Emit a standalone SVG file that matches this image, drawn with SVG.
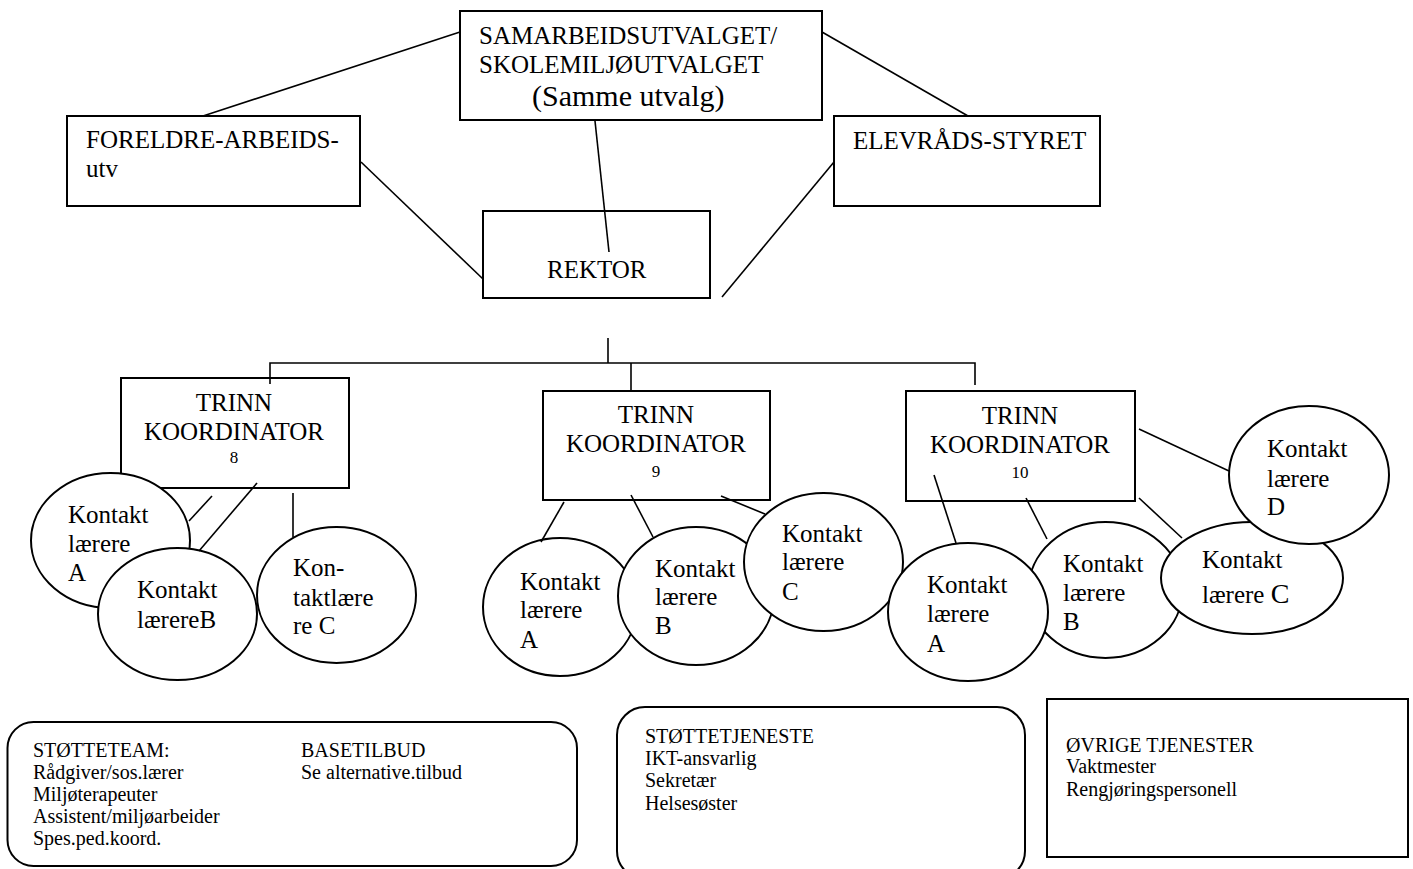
<svg xmlns="http://www.w3.org/2000/svg" width="1413" height="869" viewBox="0 0 1413 869">
<style>
text{font-family:"Liberation Serif","Times New Roman",serif;fill:#000;font-size:25px}
.box{fill:#fff;stroke:#000;stroke-width:2}
.ell{fill:#fff;stroke:#000;stroke-width:2}
.num{font-size:17px}
.sm{font-size:20px}
.mid{text-anchor:middle}
#connectors line,#connectors polyline{stroke:#000;stroke-width:1.6;fill:none}
</style>
<rect width="1413" height="869" fill="#fff"/>
<g id="samarbeidsutvalget">
<rect class="box" x="460" y="11" width="362" height="109"/>
<text x="479" y="44">SAMARBEIDSUTVALGET/</text>
<text x="479" y="73">SKOLEMILJØUTVALGET</text>
<text x="532" y="106" style="font-size:30px">(Samme utvalg)</text>
</g>
<g id="foreldre">
<rect class="box" x="67" y="116" width="293" height="90"/>
<text x="86" y="148">FORELDRE-ARBEIDS-</text>
<text x="86" y="177">utv</text>
</g>
<g id="elevrad">
<rect class="box" x="834" y="116" width="266" height="90"/>
<text x="853" y="149">ELEVRÅDS-STYRET</text>
</g>
<g id="rektor">
<rect class="box" x="483" y="211" width="227" height="87"/>
<text x="547" y="278">REKTOR</text>
</g>
<g id="trinn8">
<rect class="box" x="121" y="378" width="228" height="110"/>
<text class="mid" x="234" y="411">TRINN</text>
<text class="mid" x="234" y="440">KOORDINATOR</text>
<text class="mid num" x="234" y="463">8</text>
</g>
<g id="trinn9">
<rect class="box" x="543" y="391" width="227" height="109"/>
<text class="mid" x="656" y="423">TRINN</text>
<text class="mid" x="656" y="452">KOORDINATOR</text>
<text class="mid num" x="656" y="477">9</text>
</g>
<g id="trinn10">
<rect class="box" x="906" y="391" width="229" height="110"/>
<text class="mid" x="1020" y="424">TRINN</text>
<text class="mid" x="1020" y="453">KOORDINATOR</text>
<text class="mid num" x="1020" y="478">10</text>
</g>
<g id="k8a">
<ellipse class="ell" cx="110.5" cy="540.5" rx="79.5" ry="67.5"/>
<text x="68" y="523">Kontakt</text>
<text x="68" y="552">lærere</text>
<text x="68" y="581">A</text>
</g>
<g id="k8b">
<ellipse class="ell" cx="177.5" cy="614" rx="79.5" ry="66"/>
<text x="137" y="598">Kontakt</text>
<text x="137" y="628">lærereB</text>
</g>
<g id="k8c">
<ellipse class="ell" cx="336.5" cy="595" rx="79.5" ry="68"/>
<text x="293" y="576">Kon-</text>
<text x="293" y="606">taktlære</text>
<text x="293" y="634">re C</text>
</g>
<g id="k9a">
<ellipse class="ell" cx="560" cy="607" rx="77" ry="69"/>
<text x="520" y="590">Kontakt</text>
<text x="520" y="618">lærere</text>
<text x="520" y="648">A</text>
</g>
<g id="k9b">
<ellipse class="ell" cx="696" cy="596" rx="78" ry="69"/>
<text x="655" y="577">Kontakt</text>
<text x="655" y="605">lærere</text>
<text x="655" y="634">B</text>
</g>
<g id="k9c">
<ellipse class="ell" cx="823.5" cy="562" rx="79.5" ry="69"/>
<text x="782" y="542">Kontakt</text>
<text x="782" y="570">lærere</text>
<text x="782" y="600">C</text>
</g>
<g id="k10b">
<ellipse class="ell" cx="1105.5" cy="590" rx="77" ry="68"/>
<text x="1063" y="572">Kontakt</text>
<text x="1063" y="601">lærere</text>
<text x="1063" y="630">B</text>
</g>
<g id="k10a">
<ellipse class="ell" cx="968" cy="612" rx="80" ry="69"/>
<text x="927" y="593">Kontakt</text>
<text x="927" y="622">lærere</text>
<text x="927" y="652">A</text>
</g>
<g id="k10c">
<ellipse class="ell" cx="1252" cy="578" rx="91" ry="56"/>
<text x="1202" y="568">Kontakt</text>
<text x="1202" y="603">lærere <tspan style="font-size:28px">C</tspan></text>
</g>
<g id="k10d">
<ellipse class="ell" cx="1309" cy="475" rx="80" ry="69"/>
<text x="1267" y="457">Kontakt</text>
<text x="1267" y="487">lærere</text>
<text x="1267" y="515">D</text>
</g>
<g id="stotteteam">
<rect class="box" x="7.5" y="722" width="569.5" height="144" rx="26" ry="26"/>
<text class="sm" x="33" y="757">STØTTETEAM:</text>
<text class="sm" x="33" y="779">Rådgiver/sos.lærer</text>
<text class="sm" x="33" y="801">Miljøterapeuter</text>
<text class="sm" x="33" y="823">Assistent/miljøarbeider</text>
<text class="sm" x="33" y="845">Spes.ped.koord.</text>
<text class="sm" x="301" y="757">BASETILBUD</text>
<text class="sm" x="301" y="779">Se alternative.tilbud</text>
</g>
<g id="stottetjeneste">
<rect class="box" x="617" y="707" width="408" height="172" rx="28" ry="28"/>
<text class="sm" x="645" y="743">STØTTETJENESTE</text>
<text class="sm" x="645" y="765">IKT-ansvarlig</text>
<text class="sm" x="645" y="787">Sekretær</text>
<text class="sm" x="645" y="810">Helsesøster</text>
</g>
<g id="ovrige">
<rect class="box" x="1047" y="699" width="361" height="158"/>
<text class="sm" x="1066" y="752">ØVRIGE TJENESTER</text>
<text class="sm" x="1066" y="773">Vaktmester</text>
<text class="sm" x="1066" y="796">Rengjøringspersonell</text>
</g>
<g id="connectors">
<line x1="460" y1="32" x2="203" y2="116"/>
<line x1="822" y1="32" x2="968" y2="116"/>
<line x1="595" y1="121" x2="609" y2="252"/>
<line x1="361" y1="162" x2="483" y2="279"/>
<line x1="834" y1="162" x2="722" y2="297"/>
<line x1="608" y1="338" x2="608" y2="363"/>
<polyline points="270,384 270,363 975,363 975,385"/>
<line x1="631" y1="363" x2="631" y2="391"/>
<line x1="212" y1="496" x2="189" y2="521"/>
<line x1="257" y1="483" x2="199" y2="551"/>
<line x1="293" y1="493" x2="293" y2="537"/>
<line x1="564" y1="502" x2="541" y2="542"/>
<line x1="631" y1="495" x2="653" y2="537"/>
<line x1="721" y1="496" x2="765" y2="514"/>
<line x1="934" y1="475" x2="956" y2="543"/>
<line x1="1026" y1="498" x2="1047" y2="539"/>
<line x1="1139" y1="498" x2="1182" y2="538"/>
<line x1="1139" y1="429" x2="1229" y2="471"/>
</g>
</svg>
